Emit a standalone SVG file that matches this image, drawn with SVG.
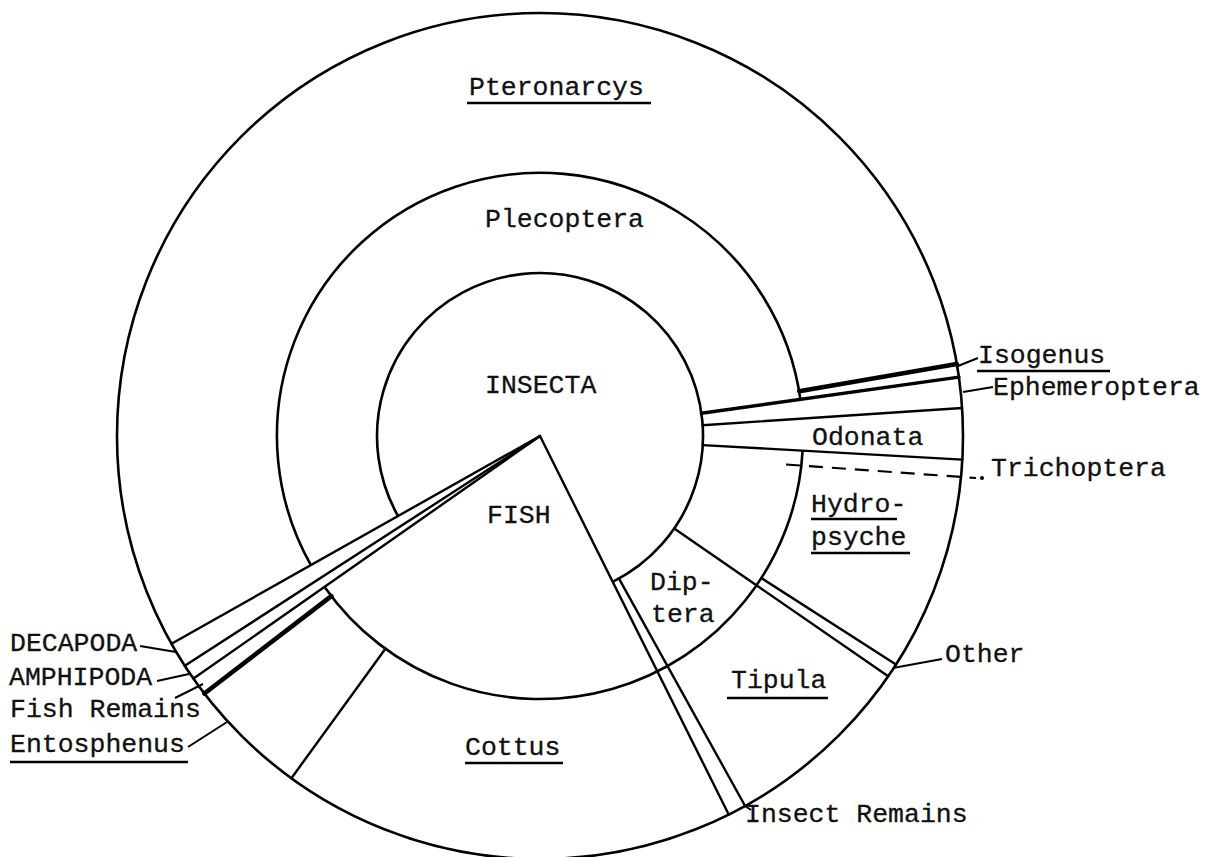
<svg xmlns="http://www.w3.org/2000/svg" width="1212" height="857" viewBox="0 0 1212 857">
<style>
.ring{fill:none;stroke:#000;stroke-width:2.6}
.ln{fill:none;stroke:#000;stroke-width:2.4;stroke-linecap:round}
.thick{fill:none;stroke:#000;stroke-width:4.6;stroke-linecap:round}
.lead{fill:none;stroke:#000;stroke-width:2}
.dash{fill:none;stroke:#000;stroke-width:2.2;stroke-dasharray:14 9}
.ul{fill:none;stroke:#000;stroke-width:2.4}
text{font-family:"Liberation Mono","DejaVu Sans Mono",monospace;font-size:26.5px;fill:#111;stroke:#111;stroke-width:0.3}
</style>
<rect width="1212" height="857" fill="#fff"/>
<g id="rings">
<circle class="ring" cx="540" cy="436" r="423"/>
<path class="ring" d="M802.6,450.7 A263,263 0 0 1 324.6,586.9"/>
<path class="ring" d="M310.9,565.1 A263,263 0 1 1 800.4,399.4"/>
<path class="ring" d="M398,516 A163,163 0 1 1 612.7,581.9"/>
</g>
<g id="connectors">
<line class="ln" x1="540" y1="436" x2="171.5" y2="643.7"/>
<line class="ln" x1="540" y1="436" x2="184.8" y2="665.8"/>
<line class="ln" x1="540" y1="436" x2="193.5" y2="678.6"/>
<line class="thick" x1="331.3" y1="596.1" x2="204.4" y2="693.5"/>
<line class="ln" x1="385.4" y1="648.8" x2="291.4" y2="778.2"/>
<line class="ln" x1="540" y1="436" x2="728.7" y2="814.5"/>
<line class="ln" x1="619" y1="578.6" x2="745.1" y2="806"/>
<line class="ln" x1="674.2" y1="528.6" x2="888.2" y2="676.2"/>
<line class="ln" x1="761.3" y1="578.1" x2="896" y2="664.5"/>
<line class="ln" x1="702.7" y1="445.1" x2="962.3" y2="459.6"/>
<line class="ln" x1="702.6" y1="425.2" x2="962.1" y2="408"/>
<line class="ln" style="stroke-width:3.4" x1="701.4" y1="413.3" x2="958.9" y2="377.1"/>
<line class="thick" x1="799.2" y1="391.2" x2="956.8" y2="364"/>
<line class="dash" x1="786" y1="464.5" x2="976" y2="478"/>
<circle cx="982" cy="478" r="2" fill="#000"/>
<line class="lead" x1="140" y1="646" x2="176" y2="652"/>
<line class="lead" x1="157" y1="681" x2="189" y2="674"/>
<line class="lead" x1="175" y1="698" x2="203" y2="684"/>
<line class="lead" x1="188" y1="747" x2="227" y2="722"/>
<line class="lead" x1="958" y1="366" x2="978" y2="358"/>
<line class="lead" x1="963" y1="392" x2="993" y2="387"/>
<line class="lead" x1="893" y1="668" x2="942" y2="659"/>
<line class="lead" x1="745" y1="806" x2="751" y2="810"/>
</g>
<g id="n-pteronarcys"><text x="469" y="95">Pteronarcys</text><line class="ul" x1="467" y1="103" x2="651" y2="103"/></g>
<g id="n-plecoptera"><text x="485" y="227">Plecoptera</text></g>
<g id="n-insecta"><text x="485" y="393">INSECTA</text></g>
<g id="n-fish"><text x="487" y="523">FISH</text></g>
<g id="n-odonata"><text x="812" y="445">Odonata</text></g>
<g id="n-hydropsyche"><text x="811" y="512">Hydro-</text><line class="ul" x1="811" y1="519" x2="897" y2="519"/><text x="811" y="545">psyche</text><line class="ul" x1="811" y1="553" x2="910" y2="553"/></g>
<g id="n-diptera"><text x="650" y="590">Dip-</text><text x="651" y="622">tera</text></g>
<g id="n-tipula"><text x="731" y="688">Tipula</text><line class="ul" x1="727" y1="698" x2="828" y2="698"/></g>
<g id="n-cottus"><text x="465" y="755">Cottus</text><line class="ul" x1="465" y1="763" x2="563" y2="763"/></g>
<g id="n-other"><text x="945" y="662">Other</text></g>
<g id="n-insectremains"><text x="745" y="822">Insect Remains</text></g>
<g id="n-isogenus"><text x="978" y="363">Isogenus</text><line class="ul" x1="977" y1="371" x2="1110" y2="371"/></g>
<g id="n-ephemeroptera"><text x="993" y="395">Ephemeroptera</text></g>
<g id="n-trichoptera"><text x="991" y="476">Trichoptera</text></g>
<g id="n-decapoda"><text x="10" y="651">DECAPODA</text></g>
<g id="n-amphipoda"><text x="9" y="685">AMPHIPODA</text></g>
<g id="n-fishremains"><text x="10" y="717">Fish Remains</text></g>
<g id="n-entosphenus"><text x="10" y="752">Entosphenus</text><line class="ul" x1="10" y1="762" x2="188" y2="762"/></g>
</svg>
